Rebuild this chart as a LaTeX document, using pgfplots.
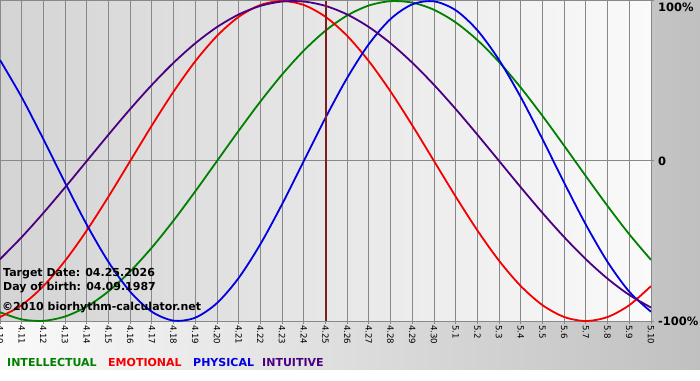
\documentclass[border=0pt]{standalone}
\usepackage{fontspec}
\setmainfont{DejaVu Sans}
\usepackage{pgfplots}
\usepackage{pgfplotstable}
\pgfplotsset{compat=1.18}
\definecolor{cGreen}{RGB}{0,128,0}
\definecolor{cRed}{RGB}{245,0,0}
\definecolor{cBlue}{RGB}{0,0,225}
\definecolor{cPurple}{RGB}{75,0,130}
\definecolor{cTarget}{RGB}{128,30,30}
\definecolor{gridc}{RGB}{136,136,136}
\definecolor{plL}{RGB}{212,212,212}
\definecolor{plR}{RGB}{250,250,250}
\definecolor{bgL}{RGB}{250,250,250}
\definecolor{bgR}{RGB}{192,192,192}

\pgfplotstableread{
day phys emo intel intu
0 0.6311 -0.9749 -0.9450 -0.6142
1 0.3984 -0.9010 -0.9898 -0.4759
2 0.1362 -0.7818 -0.9989 -0.3247
3 -0.1362 -0.6235 -0.9718 -0.1646
4 -0.3984 -0.4339 -0.9096 0
5 -0.6311 -0.2225 -0.8146 0.1646
6 -0.8170 0 -0.6901 0.3247
7 -0.9423 0.2225 -0.5406 0.4759
8 -0.9977 0.4339 -0.3717 0.6142
9 -0.9791 0.6235 -0.1893 0.7357
10 -0.8879 0.7818 0 0.8372
11 -0.7308 0.9010 0.1893 0.9158
12 -0.5196 0.9749 0.3717 0.9694
13 -0.2698 1 0.5406 0.9966
14 0 0.9749 0.6901 0.9966
15 0.2698 0.9010 0.8146 0.9694
16 0.5196 0.7818 0.9096 0.9158
17 0.7308 0.6235 0.9718 0.8372
18 0.8879 0.4339 0.9989 0.7357
19 0.9791 0.2225 0.9898 0.6142
20 0.9977 0 0.9450 0.4759
21 0.9423 -0.2225 0.8660 0.3247
22 0.8170 -0.4339 0.7557 0.1646
23 0.6311 -0.6235 0.6182 0
24 0.3984 -0.7818 0.4582 -0.1646
25 0.1362 -0.9010 0.2817 -0.3247
26 -0.1362 -0.9749 0.0951 -0.4759
27 -0.3984 -1 -0.0951 -0.6142
28 -0.6311 -0.9749 -0.2817 -0.7357
29 -0.8170 -0.9010 -0.4582 -0.8372
30 -0.9423 -0.7818 -0.6182 -0.9158
}\biodata

\begin{document}
\begin{tikzpicture}
\useasboundingbox (0pt,0pt) rectangle (700pt,380pt);
\clip (0pt,0pt) rectangle (700pt,380pt);
\fill[white] (0pt,0pt) rectangle (700pt,380pt);
\shade[left color=bgL, right color=bgR] (0pt,11pt) rectangle (700pt,380pt);
\begin{axis}[
  at={(0pt,59pt)}, anchor=south west,
  scale only axis, width=651pt, height=320pt,
  xmin=0, xmax=30, ymin=-1, ymax=1,
  axis background/.style={shade, left color=plL, right color=plR},
  axis line style={gridc, line width=1pt},
  xtick={0,...,30},
  xticklabels={4.10,4.11,4.12,4.13,4.14,4.15,4.16,4.17,4.18,4.19,4.20,4.21,4.22,4.23,4.24,4.25,4.26,4.27,4.28,4.29,4.30,5.1,5.2,5.3,5.4,5.5,5.6,5.7,5.8,5.9,5.10},
  xticklabel style={rotate=-90, anchor=west, inner sep=1pt, font=\fontsize{8.6}{10}\selectfont},
  ytick={-1,0},
  yticklabels={-100\%,0},
  extra y ticks={1},
  extra y tick labels={100\%},
  extra y tick style={yticklabel style={yshift=-6pt}},
  yticklabel pos=right,
  yticklabel style={anchor=west, inner sep=0pt, xshift=4pt, font=\bfseries\fontsize{11.5}{13}\selectfont},
  xtick pos=bottom, ytick pos=right,
  tick align=outside, major tick length=3pt,
  tick style={gridc, line width=1pt},
  xmajorgrids, ymajorgrids,
  grid style={gridc, line width=1pt},
]
\addplot[cGreen, line width=1.8pt, smooth] table[x=day, y=intel] {\biodata};
\addplot[cRed, line width=1.8pt, smooth] table[x=day, y=emo] {\biodata};
\addplot[cBlue, line width=1.8pt, smooth] table[x=day, y=phys] {\biodata};
\addplot[cPurple, line width=1.8pt, smooth] table[x=day, y=intu] {\biodata};
\addplot[cTarget, line width=2pt] coordinates {(15,-1) (15,1)};
\end{axis}
\begin{scope}[every node/.style={anchor=base west, inner sep=0pt, font=\bfseries\fontsize{11}{13}\selectfont}]
\node at (3pt,104pt) {Target Date: 04.25.2026};
\node at (3pt,90pt) {Day of birth: 04.09.1987};
\node at (2pt,70pt) {\textcopyright2010 biorhythm-calculator.net};
\node[text=cGreen] at (7pt,14pt) {INTELLECTUAL};
\node[text=cRed] at (108pt,14pt) {EMOTIONAL};
\node[text=cBlue] at (193pt,14pt) {PHYSICAL};
\node[text=cPurple] at (262pt,14pt) {INTUITIVE};
\end{scope}
\end{tikzpicture}
\end{document}
